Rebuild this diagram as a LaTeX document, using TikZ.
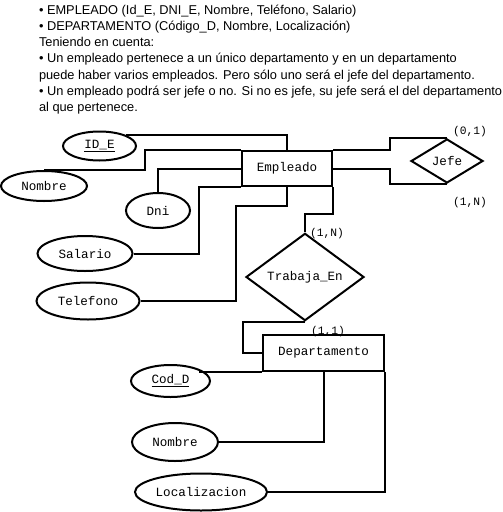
\documentclass[tikz,border=0pt]{standalone}
\usepackage{fontspec}
\setmainfont{Liberation Sans}
\setmonofont{Liberation Mono}
\usetikzlibrary{shapes.geometric}

\begin{document}
\begin{tikzpicture}[x=1pt, y=-1pt, line width=2pt,
  entidad/.style={draw, rectangle, inner sep=0pt, font=\ttfamily\fontsize{12.6}{14}\selectfont},
  atributo/.style={draw, ellipse, inner sep=0pt, font=\ttfamily\fontsize{12.6}{14}\selectfont},
  relacion/.style={draw, diamond, inner sep=0pt, font=\ttfamily\fontsize{12.6}{14}\selectfont},
  card/.style={inner sep=0pt, font=\ttfamily\fontsize{11.3}{13}\selectfont},
  enlace/.style={draw, line width=2pt}]

  \useasboundingbox (0,0) rectangle (503,512);

  % Enunciado
  \foreach \t [count=\i] in {%
    {\textbullet\ EMPLEADO (Id\_E, DNI\_E, Nombre, Teléfono, Salario)},
    {\textbullet\ DEPARTAMENTO (Código\_D, Nombre, Localización)},
    {Teniendo en cuenta:},
    {\textbullet\ Un empleado pertenece a un único departamento y en un departamento},
    {puede haber varios empleados. Pero sólo uno será el jefe del departamento.},
    {\textbullet\ Un empleado podrá ser jefe o no. Si no es jefe, su jefe será el del departamento},
    {al que pertenece.}}
    \node (linea\i) [anchor=base west, inner sep=0pt, font=\fontsize{12.8}{15}\selectfont]
      at (38, 14+16.3*\i-16.3) {\t};

  % Entidades y relaciones
  \node (empleado) [entidad, minimum width=90, minimum height=35] at (287,168.5) {Empleado};
  \node (departamento) [entidad, minimum width=121, minimum height=36] at (323.5,353) {Departamento};
  \node (jefe) [relacion, minimum width=72, minimum height=44] at (447,161) {Jefe};
  \node (trabaja) [relacion, minimum width=118, minimum height=70] at (305,277) {Trabaja\_En};

  % Atributos
  \node (idE) [atributo, minimum width=73, minimum height=29] at (99.5,146) {\underline{ID\_E}};
  \node (nombreE) [atributo, minimum width=86, minimum height=30] at (44,186) {Nombre};
  \node (dni) [atributo, minimum width=64, minimum height=35] at (158,210.5) {Dni};
  \node (salario) [atributo, minimum width=95, minimum height=35] at (85,253.5) {Salario};
  \node (telefono) [atributo, minimum width=103, minimum height=37] at (88,301) {Telefono};
  \node (codD) [atributo, minimum width=79, minimum height=32] at (170.5,381) {\underline{Cod\_D}};
  \node (nombreD) [atributo, minimum width=86, minimum height=38] at (175,442) {Nombre};
  \node (localizacion) [atributo, minimum width=132, minimum height=37] at (201,492) {Localizacion};

  % Cardinalidades
  \node (card01) [card] at (470,132) {(0,1)};
  \node (card1N) [card] at (470,203) {(1,N)};
  \node (cardTrabaja) [card] at (327,234) {(1,N)};
  \node (cardDep) [card] at (328,332) {(1,1)};

  % Conexiones
  \path[enlace] (idE.north east) -| (empleado.north);
  \path[enlace] (nombreE.north) -- ++(101,0) |- (empleado.north west);
  \path[enlace] (dni.north) |- (empleado.west);
  \path[enlace] (salario.east) -- ++(65,0) |- (empleado.south west);
  \path[enlace] (telefono.east) -| ++(95,-95) -| (empleado.south);
  \path[enlace] (empleado.north east) -- ++(57,0) |- (jefe.north);
  \path[enlace] (empleado.east) -- ++(57,0) |- (jefe.south);
  \path[enlace] (empleado.south east) -- ++(0,27) -| (trabaja.north);
  \path[enlace] (trabaja.south) -- ++(-62,0) |- (departamento.west);
  \path[enlace] (codD.north east |- departamento.south west) -- (departamento.south west);
  \path[enlace] (nombreD.east) -| (departamento.south);
  \path[enlace] (localizacion.east) -| (departamento.south east);
\end{tikzpicture}
\end{document}
